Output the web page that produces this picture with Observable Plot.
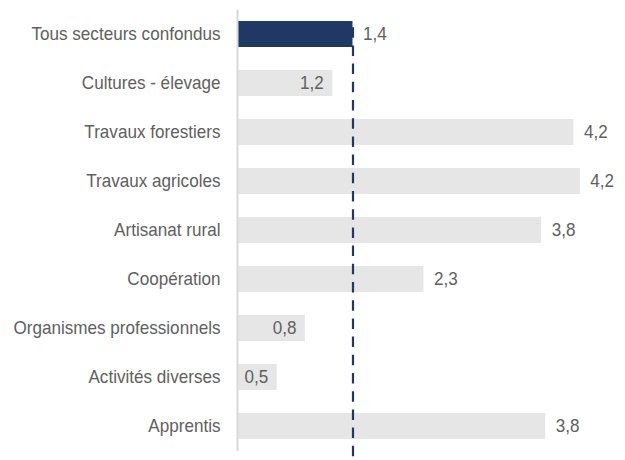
<!DOCTYPE html>
<html>
<head>
<meta charset="utf-8">
<script src="https://cdn.jsdelivr.net/npm/d3@7"></script>
<script src="https://cdn.jsdelivr.net/npm/@observablehq/plot@0.6"></script>
<style>
  html, body { margin: 0; padding: 0; background: #fff; }
</style>
</head>
<body>
<div id="chart"></div>
<script>
const categories = [
  "Tous secteurs confondus",
  "Cultures - élevage",
  "Travaux forestiers",
  "Travaux agricoles",
  "Artisanat rural",
  "Coopération",
  "Organismes professionnels",
  "Activités diverses",
  "Apprentis"
];
const values = [1.42, 1.17, 4.16, 4.24, 3.76, 2.30, 0.83, 0.48, 3.81];
const reference = values[0];

const navy = "#1f3864";
const gray = "#e6e6e6";
const textColor = "#606060";

const data = categories.map((c, i) => ({category: c, value: values[i], first: i === 0}));
const fmt = d3.formatLocale({decimal: ",", thousands: " ", grouping: [3], currency: ["", " €"]}).format(".1f");

const chart = Plot.plot({
  width: 625,
  height: 460,
  marginLeft: 238,
  marginRight: 0,
  marginTop: 9.5,
  marginBottom: 9,
  style: {fontFamily: "Liberation Sans, Arial, sans-serif", fontSize: "18px", color: textColor, background: "#fff"},
  x: {domain: [0, 4.8], axis: null},
  y: {domain: categories, paddingInner: 0.46, paddingOuter: 0.23, label: null},
  marks: [
    Plot.barX(data, {x: "value", y: "category", fill: d => d.first ? navy : gray}),
    Plot.ruleX([0], {stroke: "#d9d9d9", strokeWidth: 2, dx: -1}),
    Plot.ruleX([reference], {stroke: navy, strokeWidth: 2.2, strokeDasharray: "10.5,7.7", strokeDashoffset: 12, insetTop: 11.5, insetBottom: -10}),
    Plot.text(data.filter(d => d.value >= reference), {x: "value", y: "category", text: d => fmt(d.value), textAnchor: "start", dx: 10, fill: textColor}),
    Plot.text(data.filter(d => d.value < reference), {x: "value", y: "category", text: d => fmt(d.value), textAnchor: "end", dx: -9, fill: textColor}),
    Plot.axisY({tickSize: 0, tickPadding: 18, fill: textColor, label: null})
  ]
});

// slightly condensed lettering, as in the original chart
const squeeze = 0.95;
d3.select(chart).selectAll("text").each(function () {
  const xa = parseFloat(this.getAttribute("x"));
  const x = Number.isFinite(xa) && !/em/.test(this.getAttribute("x")) ? xa : 0;
  const t = this.getAttribute("transform") || "";
  this.setAttribute("transform", `${t} translate(${x},0) scale(${squeeze},1) translate(${-x},0)`.trim());
});

document.getElementById("chart").appendChild(chart);
</script>
</body>
</html>
